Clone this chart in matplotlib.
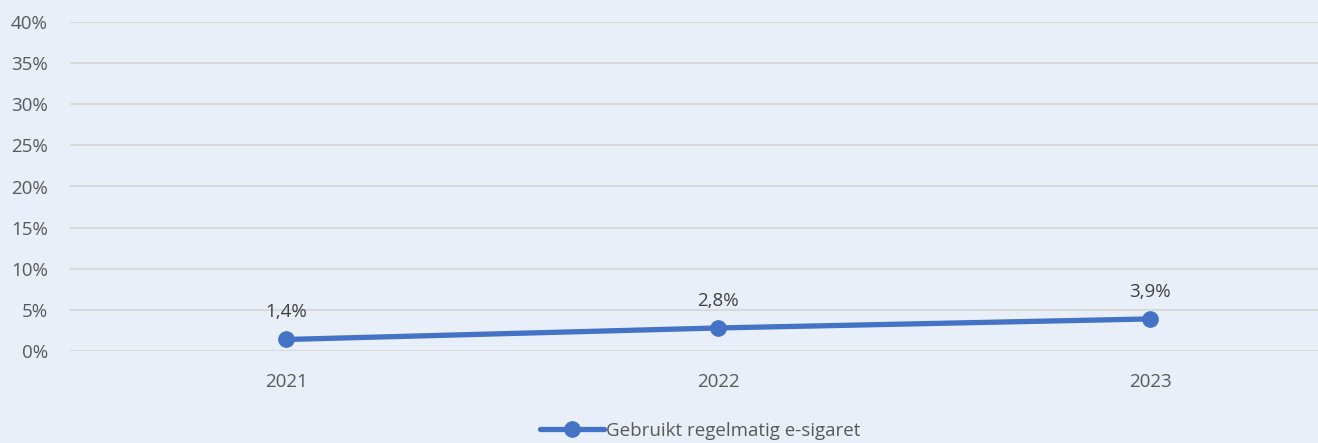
import numpy as np
import matplotlib.pyplot as plt
from matplotlib.ticker import FuncFormatter

# data
years = ['2021', '2022', '2023']
values = [1.4, 2.8, 3.9]
series_name = 'Gebruikt regelmatig e-sigaret'

bg = '#E8EFF8'
txt = '#595959'
blue = '#4472C4'

plt.rcParams['font.family'] = ['Open Sans', 'DejaVu Sans']

W, H = 1318, 443
fig = plt.figure(figsize=(W / 100, H / 100), dpi=100, facecolor=bg)
ax = fig.add_axes([70 / W, 92 / H, 1 - 70 / W, (351 - 22) / H])
ax.set_facecolor(bg)

x = np.arange(len(years))
ax.plot(x, values, color=blue, lw=3.8, marker='o', ms=11, label=series_name,
        solid_capstyle='round', zorder=3)

for xi, v in zip(x, values):
    ax.annotate(f'{v:.1f}%'.replace('.', ','), (xi, v), xytext=(0, 13),
                textcoords='offset points', ha='center', va='bottom',
                fontsize=13.5, color='#404040')

ax.set_ylim(0, 40)
ax.set_xlim(-0.5, (1318 - 286) / 432)
ax.set_yticks(np.arange(0, 41, 5))
ax.yaxis.set_major_formatter(FuncFormatter(lambda v, p: f'{v:.0f}%'))
ax.set_xticks(x)
ax.set_xticklabels(years)
ax.tick_params(length=0, labelsize=13.5, labelcolor=txt)
ax.tick_params(axis='x', pad=16)
ax.tick_params(axis='y', pad=16)
ax.grid(axis='y', color='#D9D9D9', lw=1.5, zorder=0)
ax.set_axisbelow(True)
for s in ax.spines.values():
    s.set_visible(False)

leg = fig.legend(loc='center', bbox_to_anchor=(700 / W, 1 - 431 / H), frameon=False,
                 fontsize=13.5, handlelength=3.4, handletextpad=0.1, labelcolor=txt)

fig.savefig('out.png', dpi=100, facecolor=bg)
